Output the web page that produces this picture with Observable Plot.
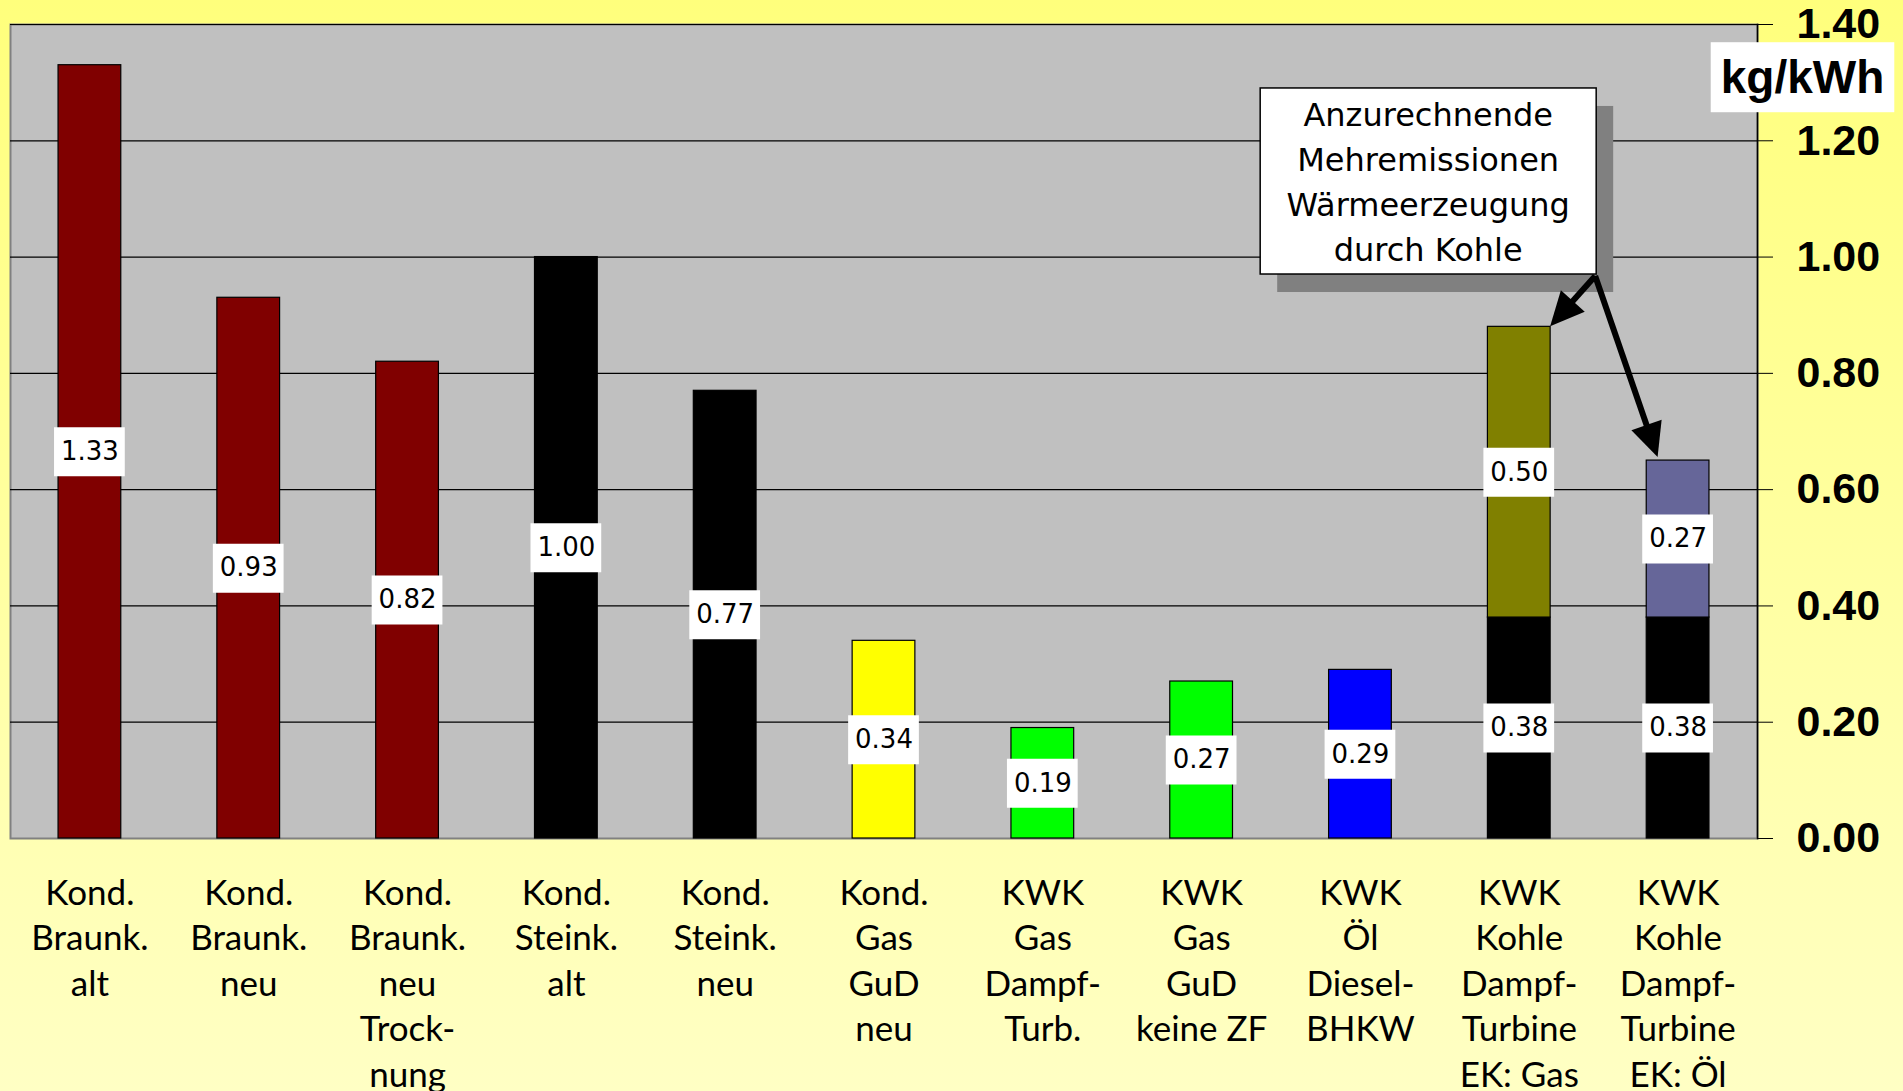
<!DOCTYPE html>
<html><head><meta charset="utf-8">
<script src="https://cdn.jsdelivr.net/npm/d3@7"></script>
<script src="https://cdn.jsdelivr.net/npm/@observablehq/plot@0.6"></script>
<style>
html,body{margin:0;padding:0;background:#ffffc0;overflow:hidden;}
#chart svg{display:block;}
</style></head><body><div id="chart"></div>
<script>
// ---- data ----
const categories = [
  "Kond.\nBraunk.\nalt",
  "Kond.\nBraunk.\nneu",
  "Kond.\nBraunk.\nneu\nTrock-\nnung",
  "Kond.\nSteink.\nalt",
  "Kond.\nSteink.\nneu",
  "Kond.\nGas\nGuD\nneu",
  "KWK\nGas\nDampf-\nTurb.",
  "KWK\nGas\nGuD\nkeine ZF",
  "KWK\nÖl\nDiesel-\nBHKW",
  "KWK\nKohle\nDampf-\nTurbine\nEK: Gas",
  "KWK\nKohle\nDampf-\nTurbine\nEK: Öl"
];
const baseValues  = [1.33, 0.93, 0.82, 1.00, 0.77, 0.34, 0.19, 0.27, 0.29, 0.38, 0.38];
const extraValues = [0, 0, 0, 0, 0, 0, 0, 0, 0, 0.50, 0.27];
const baseColors  = ["#800000","#800000","#800000","#000000","#000000","#ffff00","#00ff00","#00ff00","#0000ff","#000000","#000000"];
const extraColors = [null,null,null,null,null,null,null,null,null,"#808000","#666699"];
const yTicks = [0, 0.2, 0.4, 0.6, 0.8, 1.0, 1.2, 1.4];
const unitLabel = "kg/kWh";
const annotationLines = ["Anzurechnende", "Mehremissionen", "Wärmeerzeugung", "durch Kohle"];
const annotationTargets = [
  {cat: categories[9], value: baseValues[9] + extraValues[9]},
  {cat: categories[10], value: baseValues[10] + extraValues[10]}
];

// ---- table ----
const table = [];
categories.forEach((c, i) => {
  table.push({cat: c, series: "Basis", value: baseValues[i], color: baseColors[i]});
  if (extraValues[i] > 0) table.push({cat: c, series: "Mehremission", value: extraValues[i], color: extraColors[i]});
});

const labelFont = "'Liberation Sans Narrow', 'Arial Narrow', Lato, sans-serif";

const plot = Plot.plot({
  width: 1903, height: 1091,
  marginLeft: 10, marginRight: 146, marginTop: 24, marginBottom: 253,
  style: {background: "linear-gradient(to bottom, #ffff7c 0%, #ffffc4 100%)", overflow: "visible"},
  x: {domain: categories, paddingInner: 0.605, paddingOuter: 0.3025, round: false, axis: null},
  y: {domain: [0, 1.4], axis: null},
  marks: [
    Plot.frame({fill: "#c0c0c0", stroke: "#808080", strokeWidth: 2}),
    Plot.ruleY(yTicks.slice(1), {stroke: "#000", strokeWidth: 1.2}),
    Plot.frame({anchor: "right", stroke: "#000", strokeWidth: 1.5}),
    Plot.axisY(yTicks, {anchor: "right", tickSize: 15, tickPadding: 24, tickFormat: d3.format(".2f"),
      fontSize: 43, fontWeight: "bold", fontFamily: "'Liberation Sans', Arial, sans-serif", label: null}),
    Plot.barY(table, Plot.stackY({x: "cat", y: "value", fill: "color", stroke: "#000", strokeWidth: 1.2})),
    Plot.tickY(table, Plot.stackY({x: "cat", y: "value", stroke: "#fff", strokeWidth: 49, insetLeft: -4, insetRight: -4})),
    Plot.text(table, Plot.stackY({x: "cat", y: "value", text: d => d.value.toFixed(2),
      fontSize: 26, fontFamily: "'DejaVu Sans', sans-serif", fill: "#000"})),
    Plot.text(categories, {x: d => d, text: d => d, frameAnchor: "bottom", lineAnchor: "top", dy: 34,
      fontSize: 35, lineHeight: 1.3, fontFamily: labelFont, fill: "#000"}),
    Plot.text([unitLabel], {frameAnchor: "top-right", textAnchor: "middle", lineAnchor: "middle", dx: 45, dy: 54,
      fontSize: 46, fontWeight: "bold", fontFamily: "'Liberation Sans', Arial, sans-serif", fill: "#000"})
  ]
});

document.getElementById("chart").append(plot);

const svg = d3.select(plot);
// white box behind the unit label
svg.selectAll("text").filter(function() { return this.textContent === unitLabel; }).each(function() {
  const b = this.getBBox();
  const padX = 10, padY = 9;
  const r = d3.select(this.parentNode).insert("rect", () => this)
    .attr("x", b.x - padX).attr("y", b.y - padY)
    .attr("width", b.width + 2 * padX).attr("height", b.height + 2 * padY)
    .attr("fill", "#fff");
  const tr = this.getAttribute("transform");
  if (tr) r.attr("transform", tr);
});

// annotation box + arrows, positioned with the plot's scales
const sx = plot.scale("x"), sy = plot.scale("y");
const bw = sx.bandwidth;
const step = sx.apply(categories[1]) - sx.apply(categories[0]);
const center = c => sx.apply(c) + bw / 2;

const boxRight = center(categories[10]) - step / 2 - 2;
const boxLeft = boxRight - 336;
const boxTop = sy.apply(1.29);
const boxBottom = sy.apply(0.97);
const g = svg.append("g").attr("aria-label", "annotation");
g.append("rect").attr("x", boxLeft + 17).attr("y", boxTop + 18)
  .attr("width", boxRight - boxLeft).attr("height", boxBottom - boxTop).attr("fill", "#808080");
g.append("rect").attr("x", boxLeft).attr("y", boxTop)
  .attr("width", boxRight - boxLeft).attr("height", boxBottom - boxTop)
  .attr("fill", "#fff").attr("stroke", "#000").attr("stroke-width", 1.5);
const lineH = 45;
annotationLines.forEach((t, i) => {
  g.append("text").attr("x", (boxLeft + boxRight) / 2).attr("y", boxTop + 27 + lineH * i)
    .attr("text-anchor", "middle").attr("dominant-baseline", "central")
    .attr("font-family", "'DejaVu Sans', sans-serif").attr("font-size", 32).attr("fill", "#000").text(t);
});

const start = [boxRight - 1, boxBottom + 2];
const tips = [
  [center(annotationTargets[0].cat) + bw / 2, sy.apply(annotationTargets[0].value)],
  [center(annotationTargets[1].cat) - 20, sy.apply(annotationTargets[1].value) - 3]
];
const headLen = 34, headHalf = 16;
tips.forEach(([tx, ty]) => {
  const dx = tx - start[0], dy = ty - start[1];
  const L = Math.hypot(dx, dy), ux = dx / L, uy = dy / L;
  const bx = tx - ux * headLen, by = ty - uy * headLen;
  g.append("line").attr("x1", start[0]).attr("y1", start[1]).attr("x2", bx + ux * 2).attr("y2", by + uy * 2)
    .attr("stroke", "#000").attr("stroke-width", 6);
  g.append("polygon").attr("points", [
    [tx, ty], [bx - uy * headHalf, by + ux * headHalf], [bx + uy * headHalf, by - ux * headHalf]
  ].map(p => p.join(",")).join(" ")).attr("fill", "#000");
});
</script>
</body></html>
